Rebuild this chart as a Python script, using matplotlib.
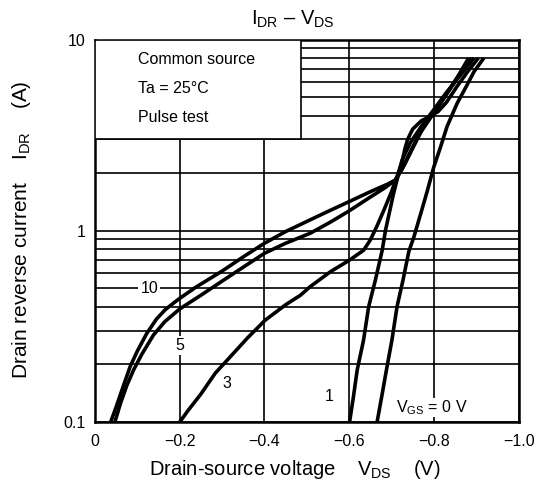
import numpy as np
import matplotlib
matplotlib.use("Agg")
import matplotlib.pyplot as plt
from matplotlib.patches import Rectangle
from matplotlib.ticker import FixedLocator, NullFormatter

plt.rcParams["font.family"] = ["Liberation Sans", "DejaVu Sans"]
plt.rcParams["mathtext.fontset"] = "custom"
plt.rcParams["mathtext.rm"] = "Liberation Sans"
plt.rcParams["mathtext.it"] = "Liberation Sans:italic"

# === data (V_DS in V, I_DR in A) ===
vgs10_v = [-0.037, -0.05, -0.065, -0.083, -0.10, -0.122, -0.145, -0.165, -0.185, -0.20, -0.24,
           -0.30, -0.35, -0.40, -0.45, -0.508, -0.556, -0.60, -0.65, -0.69, -0.709, -0.725,
           -0.745, -0.765, -0.792, -0.815, -0.835, -0.86, -0.882]
vgs10_i = [0.1, 0.12, 0.15, 0.195, 0.235, 0.29, 0.345, 0.385, 0.418, 0.443, 0.51,
           0.615, 0.73, 0.86, 0.99, 1.14, 1.28, 1.42, 1.6, 1.75, 1.84, 2.1,
           2.6, 3.2, 3.9, 4.6, 5.4, 6.6, 8.0]

vgs5_v = [-0.047, -0.06, -0.075, -0.091, -0.11, -0.138, -0.165, -0.20, -0.25, -0.30, -0.35,
          -0.40, -0.45, -0.508, -0.556, -0.60, -0.65, -0.685, -0.709, -0.73, -0.75, -0.77,
          -0.795, -0.82, -0.845, -0.868, -0.89]
vgs5_i = [0.1, 0.125, 0.155, 0.187, 0.225, 0.285, 0.335, 0.39, 0.46, 0.545, 0.645,
          0.762, 0.86, 0.97, 1.11, 1.27, 1.5, 1.68, 1.84, 2.2, 2.7, 3.3,
          4.0, 4.8, 5.8, 6.9, 8.0]

vgs3_v = [-0.20, -0.22, -0.25, -0.284, -0.32, -0.36, -0.402, -0.45, -0.485, -0.508, -0.556,
          -0.60, -0.634, -0.65, -0.665, -0.682, -0.70, -0.713, -0.725, -0.732, -0.738, -0.75,
          -0.77, -0.79, -0.81, -0.83, -0.855, -0.88, -0.905]
vgs3_i = [0.1, 0.115, 0.14, 0.18, 0.22, 0.275, 0.341, 0.41, 0.46, 0.51, 0.611,
          0.70, 0.79, 0.895, 1.05, 1.28, 1.6, 1.92, 2.3, 2.7, 3.0, 3.4,
          3.75, 3.95, 4.2, 4.7, 5.7, 6.8, 8.0]

vgs1_v = [-0.601, -0.61, -0.619, -0.634, -0.646, -0.662, -0.678, -0.686, -0.705, -0.725,
          -0.745, -0.77, -0.80, -0.83, -0.865, -0.895]
vgs1_i = [0.1, 0.135, 0.187, 0.268, 0.40, 0.553, 0.79, 1.01, 1.57, 2.34,
          2.9, 3.5, 4.3, 5.3, 6.6, 8.0]

vgs0_v = [-0.666, -0.678, -0.688, -0.701, -0.713, -0.727, -0.741, -0.753, -0.77, -0.784,
          -0.80, -0.816, -0.831, -0.855, -0.875, -0.895, -0.918]
vgs0_i = [0.1, 0.14, 0.187, 0.268, 0.40, 0.55, 0.78, 0.93, 1.25, 1.6,
          2.16, 2.75, 3.5, 4.64, 5.6, 6.8, 8.0]

x_ticks = [0, -0.2, -0.4, -0.6, -0.8, -1.0]
x_tick_labels = ["0", "\u22120.2", "\u22120.4", "\u22120.6", "\u22120.8", "\u22121.0"]
y_ticks = [0.1, 1, 10]
y_tick_labels = ["0.1", "1", "10"]
y_minor = [0.2, 0.3, 0.4, 0.5, 0.6, 0.7, 0.8, 0.9, 2, 3, 4, 5, 6, 7, 8, 9]

# === plot ===
fig = plt.figure(figsize=(5.43, 4.97), dpi=100)
ax = fig.add_axes([0.175, 0.151, 0.780, 0.7695])

ax.set_yscale("log")
ax.set_xlim(0, -1.0)
ax.set_ylim(0.1, 10)

ax.set_xticks(x_ticks)
ax.set_xticklabels(x_tick_labels)
ax.set_yticks(y_ticks)
ax.set_yticklabels(y_tick_labels)
ax.yaxis.set_minor_locator(FixedLocator(y_minor))
ax.yaxis.set_minor_formatter(NullFormatter())
ax.tick_params(which="both", length=0, labelsize=11.5)
ax.tick_params(axis="x", pad=9)
ax.tick_params(axis="y", pad=7)

ax.set_axisbelow(True)
ax.grid(True, which="major", color="black", linewidth=1.2)
ax.grid(True, which="minor", axis="y", color="black", linewidth=1.2)
for sp in ax.spines.values():
    sp.set_linewidth(1.8)

for v, i in [(vgs10_v, vgs10_i), (vgs5_v, vgs5_i), (vgs3_v, vgs3_i),
             (vgs1_v, vgs1_i), (vgs0_v, vgs0_i)]:
    ax.plot(v, i, color="black", linewidth=2.6, solid_capstyle="butt",
            solid_joinstyle="round", zorder=4)

# condition box
ax.add_patch(Rectangle((0, 0.7386), 0.486, 0.2614, transform=ax.transAxes,
                       facecolor="white", edgecolor="black", linewidth=1.2, zorder=3))
ax.text(0.102, 0.949, "Common source", transform=ax.transAxes, fontsize=11.5,
        va="center", ha="left", zorder=5)
ax.text(0.102, 0.871, "Ta = 25°C", transform=ax.transAxes, fontsize=11.5,
        va="center", ha="left", zorder=5)
ax.text(0.102, 0.797, "Pulse test", transform=ax.transAxes, fontsize=11.5,
        va="center", ha="left", zorder=5)

# curve labels
white = dict(facecolor="white", edgecolor="none", pad=1.5)
ax.text(-0.128, 0.5, "10", fontsize=11.5, ha="center", va="center", bbox=white, zorder=5)
ax.text(-0.2, 0.25, "5", fontsize=11.5, ha="center", va="center", bbox=white, zorder=5)
ax.text(-0.311, 0.158, "3", fontsize=11.5, ha="center", va="center", zorder=5)
ax.text(-0.554, 0.136, "1", fontsize=11.5, ha="center", va="center", zorder=5)
ax.text(-0.796, 0.119, "V$_\\mathrm{GS}$ = 0 V", fontsize=11.5, ha="center", va="center",
        bbox=dict(facecolor="white", edgecolor="none", pad=0.5), zorder=5)

ax.set_title("I$_\\mathrm{DR}$ \u2013 V$_\\mathrm{DS}$", fontsize=14.5, x=0.466, y=1.018)
ax.set_xlabel("Drain-source voltage    V$_\\mathrm{DS}$    (V)", fontsize=14.5)
ax.set_ylabel("Drain reverse current    I$_\\mathrm{DR}$    (A)", fontsize=15)
ax.xaxis.set_label_coords(0.472, -0.1255)
ax.xaxis.label.set_va("center")
ax.yaxis.set_label_coords(-0.1747, 0.502)
ax.yaxis.label.set_va("center")

fig.savefig("out.png", dpi=100)
